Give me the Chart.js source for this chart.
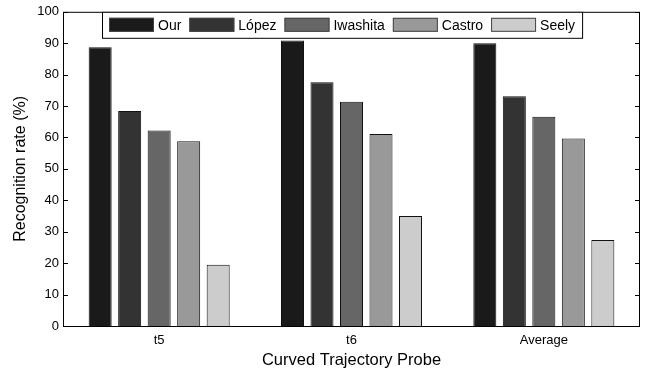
<!DOCTYPE html>
<html>
<head>
<meta charset="utf-8">
<script src="https://cdn.jsdelivr.net/npm/chart.js@4/dist/chart.umd.min.js"></script>
<style>
  body { margin: 0; background: #fff; }
  canvas { display: block; }
</style>
</head>
<body>
<canvas id="chart" width="649" height="372"></canvas>
<script>
"use strict";

const categories = ["t5", "t6", "Average"];
const methods = ["Our", "López", "Iwashita", "Castro", "Seely"];
const ourRates = [88.7, 90.9, 90.0];
const lopezRates = [68.4, 77.6, 73.1];
const iwashitaRates = [62.2, 71.4, 66.6];
const castroRates = [58.8, 61.1, 59.7];
const seelyRates = [19.5, 35.0, 27.4];
const methodColors = ["#1a1a1a", "#333333", "#666666", "#999999", "#cccccc"];

const FONT = "'Liberation Sans', Arial, sans-serif";

const series = [ourRates, lopezRates, iwashitaRates, castroRates, seelyRates];

// box round the plot plus inside ticks on both sides (matlab style)
const frame = {
    id: "frame",
    afterDatasetsDraw(chart) {
        const ctx = chart.ctx;
        const a = chart.chartArea;
        const y = chart.scales.y;
        ctx.save();
        ctx.strokeStyle = "#000";
        ctx.lineWidth = 1;
        ctx.strokeRect(a.left + 0.5, a.top + 0.5, a.right - a.left - 1, a.bottom - a.top);
        y.ticks.forEach(t => {
            const py = Math.round(y.getPixelForValue(t.value)) + 0.5;
            ctx.beginPath();
            ctx.moveTo(a.left, py);
            ctx.lineTo(a.left + 5, py);
            ctx.moveTo(a.right, py);
            ctx.lineTo(a.right - 5, py);
            ctx.stroke();
        });
        ctx.restore();
    }
};

const boxLegend = {
    id: "boxLegend",
    afterDraw(chart) {
        const ctx = chart.ctx;
        ctx.save();
        ctx.font = "14px " + FONT;
        const sw = 45, sh = 14, gap = 4, itemGap = 8, pad = 7;
        let w = pad;
        chart.data.datasets.forEach((ds, i) => {
            w += sw + gap + ctx.measureText(ds.label).width + (i < chart.data.datasets.length - 1 ? itemGap : pad);
        });
        const left = 102, top = chart.chartArea.top, h = 26;
        ctx.fillStyle = "#fff";
        ctx.fillRect(left, top, w, h);
        ctx.strokeStyle = "#000";
        ctx.lineWidth = 1;
        ctx.strokeRect(left + 0.5, top + 0.5, w, h);
        let x = left + pad;
        const cy = top + h / 2;
        chart.data.datasets.forEach(ds => {
            ctx.fillStyle = ds.backgroundColor;
            ctx.fillRect(x, cy - sh / 2, sw, sh);
            ctx.strokeStyle = "#444";
            ctx.strokeRect(x + 0.5, cy - sh / 2 + 0.5, sw - 1, sh - 1);
            x += sw + gap;
            ctx.fillStyle = "#000";
            ctx.textBaseline = "middle";
            ctx.fillText(ds.label, x, cy + 1);
            x += ctx.measureText(ds.label).width + itemGap;
        });
        ctx.restore();
    }
};

new Chart(document.getElementById("chart"), {
    type: "bar",
    data: {
        labels: categories,
        datasets: methods.map((m, i) => ({
            label: m,
            data: series[i],
            backgroundColor: methodColors[i],
            borderColor: "#111",
            borderWidth: 1,
            categoryPercentage: 0.767,
            barPercentage: 0.78
        }))
    },
    options: {
        responsive: false,
        animation: false,
        layout: { padding: { top: 10, right: 9, left: 0, bottom: 0 } },
        plugins: {
            legend: { display: false },
            tooltip: { enabled: false }
        },
        scales: {
            x: {
                grid: { display: false, drawTicks: false },
                border: { display: false },
                ticks: { color: "#000", font: { family: FONT, size: 13 }, padding: 7 },
                title: {
                    display: true,
                    text: "Curved Trajectory Probe",
                    color: "#000",
                    font: { family: FONT, size: 16.5 },
                    padding: { top: 2, bottom: 2 }
                },
                afterFit(scale) { scale.height = 46; }
            },
            y: {
                min: 0,
                max: 100,
                grid: { display: false, drawTicks: false },
                border: { display: false },
                ticks: { stepSize: 10, color: "#000", font: { family: FONT, size: 13 }, padding: 4 },
                title: {
                    display: true,
                    text: "Recognition rate (%)",
                    color: "#000",
                    font: { family: FONT, size: 16 },
                    padding: { top: 11, bottom: 4 }
                },
                afterFit(scale) { scale.width = 63; }
            }
        }
    },
    plugins: [frame, boxLegend]
});
</script>
</body>
</html>
